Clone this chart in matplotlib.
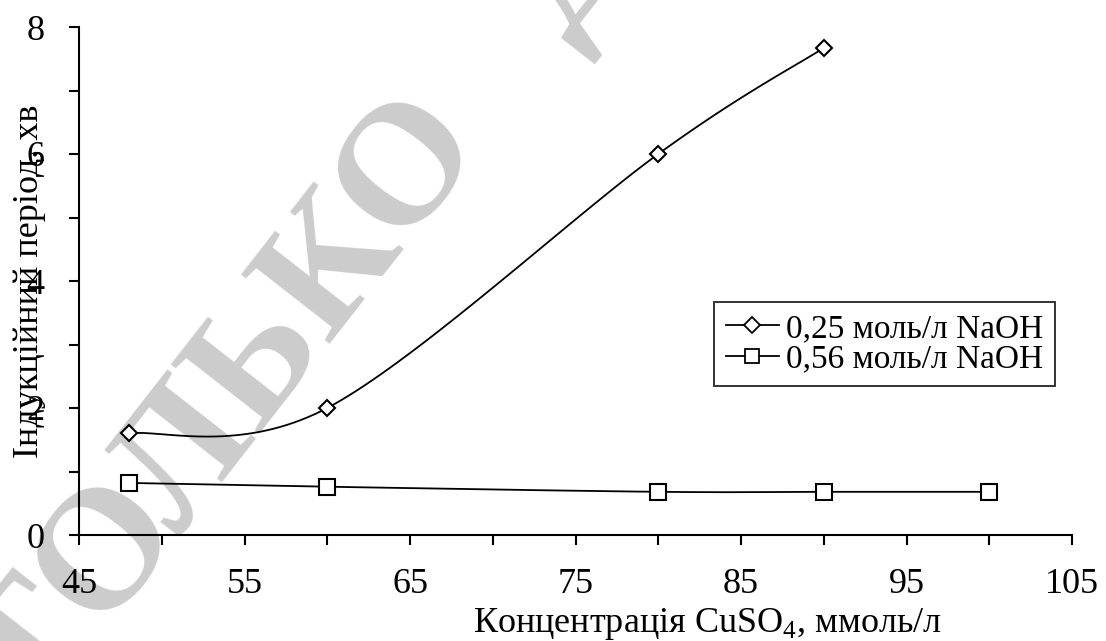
import numpy as np
import matplotlib
matplotlib.use("Agg")
import matplotlib.pyplot as plt
from matplotlib.ticker import MultipleLocator, FixedLocator

plt.rcParams['font.family'] = ['Liberation Serif', 'DejaVu Serif']
plt.rcParams['mathtext.fontset'] = 'custom'
plt.rcParams['mathtext.rm'] = 'Liberation Serif'

# induction period vs CuSO4 concentration
conc_025 = [48, 60, 80, 90]
period_025 = [1.60, 2.0, 6.0, 7.67]
conc_056 = [48, 60, 80, 90, 100]
period_056 = [0.82, 0.76, 0.68, 0.68, 0.68]

label_025 = "0,25 моль/л NaOH"
label_056 = "0,56 моль/л NaOH"
x_title = "Концентрація CuSO$_4$, ммоль/л"
y_title = "Індукційний період, хв"
stamp = "ТОЛЬКО   ДЛЯ ЧТЕНИЯ"


def smooth(xs, ys, n=40):
    # spreadsheet-style smoothed line: cubic Bezier segments through every point
    p = np.column_stack([xs, ys]).astype(float)
    ext = np.vstack([p[0], p, p[-1]])
    t = np.linspace(0, 1, n)[:, None]
    out = []
    for i in range(len(p) - 1):
        p0, p1 = ext[i + 1], ext[i + 2]
        c1 = p0 + (ext[i + 2] - ext[i]) / 6
        c2 = p1 - (ext[i + 3] - ext[i + 1]) / 6
        seg = ((1 - t) ** 3) * p0 + 3 * ((1 - t) ** 2) * t * c1 + 3 * (1 - t) * t ** 2 * c2 + t ** 3 * p1
        out.append(seg if i == 0 else seg[1:])
    out = np.vstack(out)
    return out[:, 0], out[:, 1]


W, H = 1106, 641
fig = plt.figure(figsize=(W / 100, H / 100), dpi=100)
ax = fig.add_axes([79 / W, 1 - 535 / H, 993 / W, 508 / H])

# light gray stamp behind everything
fig.text(33 / W, -83 / H, stamp, fontsize=124, fontweight='bold', color='#cccccc',
         rotation=52, rotation_mode='anchor', ha='left', va='baseline', zorder=0)
ax.set_zorder(1)
ax.patch.set_alpha(0)

sx, sy = smooth(conc_025, period_025)
ax.plot(sx, sy, color='black', lw=1.3)
sx, sy = smooth(conc_056, period_056)
ax.plot(sx, sy, color='black', lw=1.3)

ax.plot(conc_025, period_025, ls='none', marker='D', ms=8.4, mfc='white', mec='black', mew=1.5)
ax.plot(conc_056, period_056, ls='none', marker='s', ms=11.5, mfc='white', mec='black', mew=1.5)

h1, = ax.plot([], [], color='black', lw=1.3, marker='D', ms=8, mfc='white', mec='black', mew=1.3)
h2, = ax.plot([], [], color='black', lw=1.3, marker='s', ms=10, mfc='white', mec='black', mew=1.3)
leg = ax.legend([h1, h2], [label_025, label_056], loc='upper left',
                bbox_to_anchor=((714 - 79) / 993, (535 - 302) / 508), fontsize=24,
                frameon=True, fancybox=False, edgecolor='black', handlelength=1.6,
                handletextpad=0.2, borderpad=0.35, labelspacing=0.0, borderaxespad=0)
leg.get_frame().set_linewidth(1.4)

ax.set_xlim(45, 105)
ax.set_ylim(0, 8)
ax.xaxis.set_major_locator(FixedLocator([45, 55, 65, 75, 85, 95, 105]))
ax.xaxis.set_minor_locator(FixedLocator([50, 60, 70, 80, 90, 100]))
ax.yaxis.set_major_locator(MultipleLocator(2))
ax.yaxis.set_minor_locator(FixedLocator([1, 3, 5, 7]))

for side in ('top', 'right'):
    ax.spines[side].set_visible(False)
for side in ('left', 'bottom'):
    ax.spines[side].set_linewidth(1.5)

ax.tick_params(which='both', direction='out', length=7, width=1.5, colors='black')
ax.tick_params(axis='x', labelsize=26, pad=17)
ax.tick_params(axis='y', labelsize=26, pad=18)

fig.text(708 / W, 1 - 632 / H, x_title, fontsize=26, ha='center', va='baseline')
fig.text(30 / W, 1 - 281 / H, y_title, fontsize=26, rotation=90, ha='center', va='center')

fig.savefig("out.png", dpi=100)
